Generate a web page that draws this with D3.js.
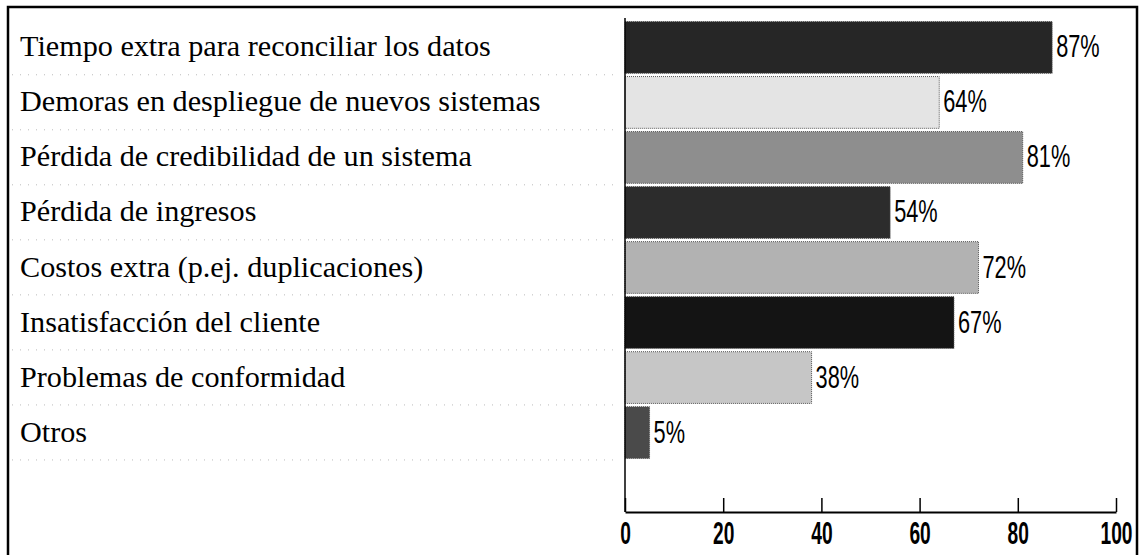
<!DOCTYPE html>
<html>
<head>
<meta charset="utf-8">
<script src="https://cdn.jsdelivr.net/npm/d3@7"></script>
<style>
  html, body { margin: 0; padding: 0; background: #fff; }
  svg { display: block; }
</style>
</head>
<body>
<svg id="chart" width="1140" height="555"></svg>
<script>
// ---- data ----
const categories = [
  "Tiempo extra para reconciliar los datos",
  "Demoras en despliegue de nuevos sistemas",
  "Pérdida de credibilidad de un sistema",
  "Pérdida de ingresos",
  "Costos extra (p.ej. duplicaciones)",
  "Insatisfacción del cliente",
  "Problemas de conformidad",
  "Otros"
];
const values = [87, 64, 81, 54, 72, 67, 38, 5];
const tickValues = [0, 20, 40, 60, 80, 100];

// ---- styles ----
const barFills = ["#262626", "#e4e4e4", "#8e8e8e", "#2c2c2c", "#b2b2b2", "#141414", "#c6c6c6", "#4a4a4a"];

const svg = d3.select("#chart");
const W = 1140, H = 555;

// frame
svg.append("path")
  .attr("d", `M8,${H + 5}V7H1137V${H + 5}`)
  .attr("fill", "none").attr("stroke", "#000").attr("stroke-width", 2.5);

const x = d3.scaleLinear().domain([0, 100]).range([625, 1116]);
const y = d3.scaleBand().domain(categories).range([21, 459]).paddingInner(0.06).paddingOuter(0.01);
const baseY = 512;

// faint dotted row separators in label area
svg.append("g").selectAll("line")
  .data(categories)
  .join("line")
  .attr("x1", 12).attr("x2", 620)
  .attr("y1", d => y(d) + y.bandwidth() + 1.5)
  .attr("y2", d => y(d) + y.bandwidth() + 1.5)
  .attr("stroke", "#bbb").attr("stroke-width", 1).attr("stroke-dasharray", "1,7");

// category labels
svg.append("g").selectAll("text")
  .data(categories)
  .join("text")
  .attr("x", 20)
  .attr("y", d => y(d) + y.bandwidth() / 2 + 9)
  .attr("font-family", "'Liberation Serif', 'Times New Roman', serif")
  .attr("font-size", 30.2)
  .attr("fill", "#000")
  .text(d => d);

// bars
svg.append("g").selectAll("rect")
  .data(values)
  .join("rect")
  .attr("x", x(0))
  .attr("y", (d, i) => y(categories[i]))
  .attr("width", d => x(d) - x(0))
  .attr("height", y.bandwidth())
  .attr("fill", (d, i) => barFills[i])
  .attr("stroke", "#555").attr("stroke-width", 1).attr("stroke-dasharray", "1,1");

// value labels (condensed)
svg.append("g").selectAll("g")
  .data(values)
  .join("g")
  .attr("transform", (d, i) => `translate(${x(d) + 4},${y(categories[i]) + y.bandwidth() / 2 + 10}) scale(0.68,1)`)
  .append("text")
  .attr("font-family", "'Liberation Sans Narrow', 'Liberation Sans', Arial, sans-serif")
  .attr("font-size", 32)
  .attr("fill", "#000")
  .text(d => d + "%");

// vertical axis line
svg.append("line")
  .attr("x1", x(0)).attr("x2", x(0))
  .attr("y1", 18).attr("y2", baseY)
  .attr("stroke", "#000").attr("stroke-width", 1.5);

// bottom axis with upward ticks
const axis = d3.axisBottom(x)
  .tickValues(tickValues)
  .tickFormat(d3.format("d"))
  .tickSizeInner(-14)
  .tickSizeOuter(0)
  .tickPadding(10);

const gx = svg.append("g")
  .attr("transform", `translate(0,${baseY})`)
  .call(axis);
gx.select(".domain").attr("stroke", "#000").attr("stroke-width", 2);
gx.selectAll(".tick line").attr("stroke", "#000").attr("stroke-width", 1.5);
gx.selectAll(".tick text")
  .attr("font-family", "'Liberation Sans Narrow', 'Liberation Sans', Arial, sans-serif")
  .attr("font-size", 32)
  .attr("font-weight", "bold")
  .attr("fill", "#000")
  .attr("dy", "0.72em")
  .attr("y", 9)
  .attr("transform", "scale(0.6,1)");
</script>
</body>
</html>
